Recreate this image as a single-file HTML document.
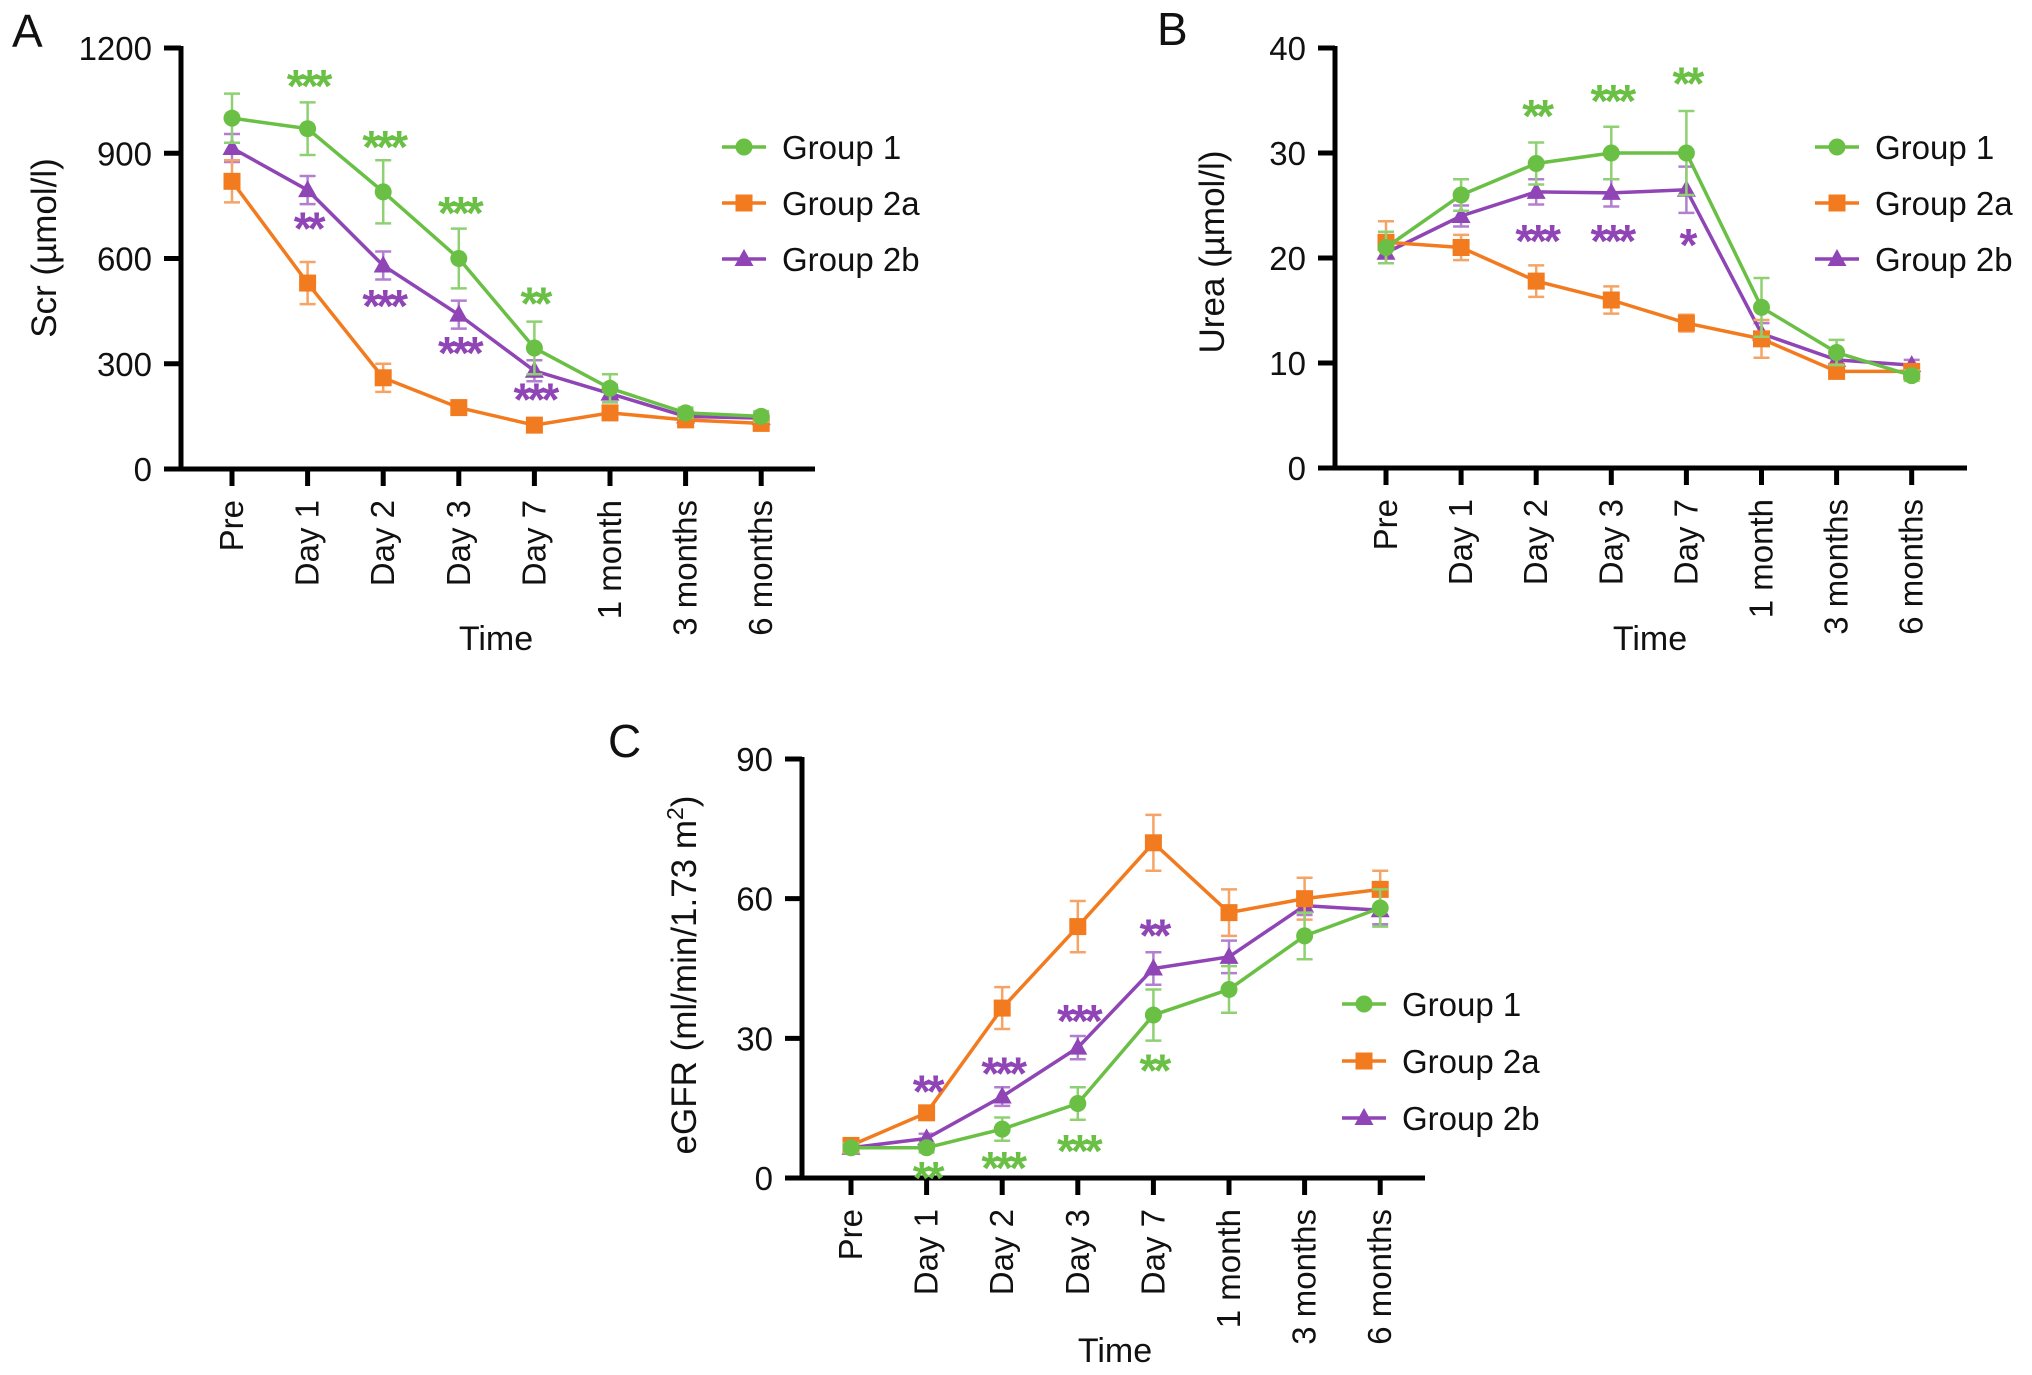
<!DOCTYPE html>
<html><head><meta charset="utf-8"><style>
html,body{margin:0;padding:0;background:#fff;}
svg{display:block;font-family:"Liberation Sans",Arial,sans-serif;}
</style></head><body>
<svg id="fig" width="2032" height="1375" viewBox="0 0 2032 1375" xmlns="http://www.w3.org/2000/svg"></svg>
<script>
const categories = ["Pre","Day 1","Day 2","Day 3","Day 7","1 month","3 months","6 months"];
const seriesNames = ["Group 1","Group 2a","Group 2b"];
// Panel A: Scr
const scrG1 = [1000,970,790,600,345,230,160,150];
const scrG1Err = [70,75,90,85,75,40,15,15];
const scrG2a = [820,530,260,175,125,160,140,130];
const scrG2aErr = [60,60,40,20,20,20,15,15];
const scrG2b = [915,795,580,440,280,215,150,145];
const scrG2bErr = [40,40,40,40,30,25,15,15];
const scrTicks = [0,300,600,900,1200];
const scrStarsG1 = [null,"***","***","***","**",null,null,null];
const scrStarsG1Y = [null,1115,941,753,495,null,null,null];
const scrStarsG2b = [null,"**","***","***","***",null,null,null];
const scrStarsG2bY = [null,709,487,354,221,null,null,null];
// Panel B: Urea
const ureaG1 = [21,26,29,30,30,15.3,11,8.8];
const ureaG1Err = [1.5,1.5,2,2.5,4,2.8,1.2,0.5];
const ureaG2a = [21.5,21,17.8,16,13.8,12.3,9.2,9.2];
const ureaG2aErr = [2,1.2,1.5,1.3,0.8,1.8,0.6,0.5];
const ureaG2b = [20.5,24,26.3,26.2,26.5,12.8,10.3,9.8];
const ureaG2bErr = [1,1,1.2,1.3,2.2,1,0.6,0.5];
const ureaTicks = [0,10,20,30,40];
const ureaStarsG1 = [null,null,"**","***","**",null,null,null];
const ureaStarsG1Y = [null,null,34.3,35.7,37.4,null,null,null];
const ureaStarsG2b = [null,null,"***","***","*",null,null,null];
const ureaStarsG2bY = [null,null,22.4,22.4,22.0,null,null,null];
// Panel C: eGFR
const egfrG1 = [6.5,6.5,10.5,16,35,40.5,52,58];
const egfrG1Err = [1,1,2.5,3.5,5.5,5,5,4];
const egfrG2a = [7,14,36.5,54,72,57,60,62];
const egfrG2aErr = [1,1.5,4.5,5.5,6,5,4.5,4];
const egfrG2b = [6.5,8.5,17.5,28,45,47.5,58.5,57.5];
const egfrG2bErr = [0.5,1,2,2.5,3.5,3.5,2,3];
const egfrTicks = [0,30,60,90];
const egfrStarsG1 = [null,"**","***","***","**",null,null,null];
const egfrStarsG1Y = [null,1.7,3.9,7.5,24.8,null,null,null];
const egfrStarsG2b = [null,"**","***","***","**",null,null,null];
const egfrStarsG2bY = [null,20.3,24.2,35.4,53.8,null,null,null];

const COLORS = ["#6abf45","#f37b1f","#8f45b5"];
const ERRC = ["#8fd072","#f5a466","#b27fcf"];
const NS = "http://www.w3.org/2000/svg";
const svg = document.getElementById("fig");
function mk(tag, attrs, parent){const e=document.createElementNS(NS,tag);for(const k in attrs)e.setAttribute(k,attrs[k]);(parent||svg).appendChild(e);return e;}

function drawPanel(p){
  const g = mk("g",{});
  
  
  const x = i => p.x0 + i*p.step;
  const y = v => p.yBottom - (v - p.yMin)/(p.yMax - p.yMin)*(p.yBottom - p.yTop);
  const L = mk("text",{x:p.letterX,y:p.letterY,"font-size":46,fill:"#111"},g); L.textContent=p.letter;
  
  
  const ax = mk("g",{stroke:"#000","stroke-width":5,fill:"none"},g);
  
  
  mk("line",{x1:p.axisX,y1:p.yTop-2,x2:p.axisX,y2:p.yBottom+2.5},ax);
  mk("line",{x1:p.axisX-16,y1:p.yBottom,x2:p.xEnd,y2:p.yBottom},ax);
  p.ticks.forEach(t=>{
    mk("line",{x1:p.axisX-17,y1:y(t),x2:p.axisX,y2:y(t)},ax);
    const tl = mk("text",{x:p.axisX-29,y:y(t)+12,"font-size":33,"text-anchor":"end",fill:"#111"},g);
    tl.textContent=t;
    
    
  });
  categories.forEach((c,i)=>{
    mk("line",{x1:x(i),y1:p.yBottom,x2:x(i),y2:p.yBottom+17},ax);
    const t = mk("text",{x:0,y:0,"font-size":33,"text-anchor":"end",fill:"#111",transform:`translate(${x(i)+11},${p.yBottom+31}) rotate(-90)`},g);
    t.textContent=c;
    
    
  });
  const yt = mk("text",{x:0,y:0,"font-size":35,"text-anchor":"middle",fill:"#111",transform:`translate(${p.yTitleX},${p.yTitleY}) rotate(-90)`},g);
  yt.innerHTML = p.yTitle;
  
  
  const xt = mk("text",{x:p.timeX,y:p.timeY,"font-size":34,"text-anchor":"middle",fill:"#111"},g);
  xt.textContent="Time";
  
  
  [2,1,0].forEach(s=>{
    const vals=p.series[s], errs=p.errs[s];
    const sg = mk("g",{},g);
    
    
    vals.forEach((v,i)=>{
      const eb = mk("path",{d:`M${x(i)},${y(v-errs[i])}V${y(v+errs[i])}M${x(i)-8},${y(v+errs[i])}h16M${x(i)-8},${y(v-errs[i])}h16`,stroke:ERRC[s],"stroke-width":2.5,fill:"none"},sg);
      
      
    });
    const ln = mk("polyline",{points:vals.map((v,i)=>x(i)+","+y(v)).join(" "),stroke:COLORS[s],"stroke-width":3.5,fill:"none"},sg);
    
    
    vals.forEach((v,i)=>{marker(sg,s,x(i),y(v));});
  });
  [[p.stars1,p.stars1Y,0],[p.stars2,p.stars2Y,2]].forEach(([st,sy,s])=>{
    st.forEach((t,i)=>{ if(!t) return;
      const e = mk("text",{x:x(i),y:y(sy[i])+24,"font-size":46,"font-weight":"bold","text-anchor":"middle",fill:COLORS[s],"letter-spacing":"-4"},g);
      e.textContent=t;
      
      
    });
  });
  seriesNames.forEach((n,s)=>{
    const ly = p.legY + s*p.legStep;
    const lg = mk("g",{},g);
    
    
    mk("line",{x1:p.legX,y1:ly,x2:p.legX+44,y2:ly,stroke:COLORS[s],"stroke-width":3.5},lg);
    marker(lg,s,p.legX+22,ly);
    const tx = mk("text",{x:p.legX+60,y:ly+12,"font-size":33,fill:"#111"},lg);
    tx.textContent=n;
  });
}
function marker(g,s,cx,cy){
  let m;
  if(s===0) m=mk("circle",{cx:cx,cy:cy,r:8.5,fill:COLORS[0]},g);
  else if(s===1) m=mk("rect",{x:cx-8.5,y:cy-8.5,width:17,height:17,fill:COLORS[1]},g);
  else m=mk("path",{d:`M${cx},${cy-10}L${cx+9.5},${cy+7}L${cx-9.5},${cy+7}Z`,fill:COLORS[2]},g);
  
  
}

drawPanel({name:"panel-a-scr",letter:"A",letterX:12,letterY:47,axisX:181,x0:232,step:75.6,xEnd:815,yTop:48,yBottom:469,yMin:0,yMax:1200,ticks:scrTicks,
  series:[scrG1,scrG2a,scrG2b],errs:[scrG1Err,scrG2aErr,scrG2bErr],
  stars1:scrStarsG1,stars1Y:scrStarsG1Y,stars2:scrStarsG2b,stars2Y:scrStarsG2bY,
  yTitle:"Scr (µmol/l)",yTitleX:56,yTitleY:248,timeX:496,timeY:650,legX:722,legY:147,legStep:56});
drawPanel({name:"panel-b-urea",letter:"B",letterX:1157,letterY:45,axisX:1335,x0:1386,step:75.1,xEnd:1967,yTop:48,yBottom:468,yMin:0,yMax:40,ticks:ureaTicks,
  series:[ureaG1,ureaG2a,ureaG2b],errs:[ureaG1Err,ureaG2aErr,ureaG2bErr],
  stars1:ureaStarsG1,stars1Y:ureaStarsG1Y,stars2:ureaStarsG2b,stars2Y:ureaStarsG2bY,
  yTitle:"Urea (µmol/l)",yTitleX:1224,yTitleY:252,timeX:1650,timeY:650,legX:1815,legY:147,legStep:56});
drawPanel({name:"panel-c-egfr",letter:"C",letterX:608,letterY:757,axisX:802,x0:851,step:75.6,xEnd:1425,yTop:759,yBottom:1178,yMin:0,yMax:90,ticks:egfrTicks,
  series:[egfrG1,egfrG2a,egfrG2b],errs:[egfrG1Err,egfrG2aErr,egfrG2bErr],
  stars1:egfrStarsG1,stars1Y:egfrStarsG1Y,stars2:egfrStarsG2b,stars2Y:egfrStarsG2bY,
  yTitle:'eGFR (ml/min/1.73 m<tspan dy="-13" font-size="23">2</tspan><tspan dy="13">)</tspan>',yTitleX:696,yTitleY:975,timeX:1115,timeY:1362,legX:1342,legY:1004,legStep:57});
</script>
</body></html>
